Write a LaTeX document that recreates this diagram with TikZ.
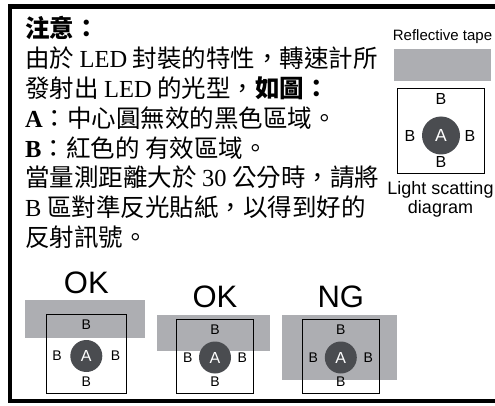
\documentclass[tikz,border=0pt]{standalone}
\usepackage{fontspec}
\setmainfont{Noto Sans CJK TC}
\newfontfamily\timesfont{Liberation Serif}
\newfontfamily\arialfont{Liberation Sans}
\newcommand\lat[1]{{\timesfont #1}}
\definecolor{tapegray}{RGB}{173,174,178}
\definecolor{ledgray}{RGB}{74,76,80}
\tikzset{
  txtline/.style={anchor=base west, inner sep=0pt, font=\fontsize{24.5}{24.5}\selectfont},
  tape/.style={fill=tapegray},
  lensbox/.style={draw=black, line width=0.8pt},
  spot/.style={circle, fill=ledgray, text=white, inner sep=0pt, minimum size=32pt, font=\arialfont\fontsize{16}{16}\selectfont},
  zone/.style={inner sep=0pt, font=\arialfont\fontsize{14}{14}\selectfont},
  bigzone/.style={zone, font=\arialfont\fontsize{16}{16}\selectfont},
  caption/.style={anchor=base, inner sep=0pt, font=\arialfont\fontsize{18}{18}\selectfont},
  verdict/.style={anchor=base, inner sep=0pt, font=\arialfont\fontsize{31}{31}\selectfont}
}

\begin{document}
\begin{tikzpicture}[x=1pt,y=-1pt]
	\useasboundingbox (0,0) rectangle (495,406);
	\draw[line width=4.5pt] (10,6.5) rectangle (505,401);
	% note text
	\foreach \txt [count=\i from 0] in {%
		{\bfseries 注意：},
		{由於 \lat{LED} 封裝的特性，轉速計所},
		{發射出 \lat{LED} 的光型，{\bfseries 如圖：}},
		{\lat{\bfseries A}：中心圓無效的黑色區域。},
		{\lat{\bfseries B}：紅色的 有效區域。},
		{當量測距離大於 \lat{30} 公分時，請將},
		{\lat{B} 區對準反光貼紙，以得到好的},
		{反射訊號。}} {
		\node[txtline] (l\i) at (25, 37.6+29.86*\i) {\txt};
	};
	% legend
	\node[caption, font=\arialfont\fontsize{15}{15}\selectfont] (tapelbl) at (442.5, 41) {Reflective tape};
	\fill[tape] (394, 49) rectangle (491, 81);
	\draw[lensbox] (397.5, 88) rectangle (484, 173);
	\node[spot, minimum size=38pt, font=\arialfont\fontsize{17.5}{17.5}\selectfont] (a0) at (441, 135.5) {A};
	\node[bigzone] (nb0) at (441, 99) {B};
	\node[bigzone] (sb0) at (441, 161.5) {B};
	\node[bigzone] (wb0) at (410, 135.5) {B};
	\node[bigzone] (eb0) at (470, 135.5) {B};
	\node[caption] (cap1) at (440.5, 194) {Light scatting};
	\node[caption] (cap2) at (440.5, 214) {diagram};
	% tape positions
	\foreach \n/\cx/\cy/\hw/\st/\tx/\ty/\tw/\th/\word/\wy in {
		1/86.3/356/40.3/314/25/300/120/38/OK/293,
		2/215/357.5/38.3/319/157.3/315/112.7/35.7/OK/307,
		3/340.8/357.5/38.5/319/282.3/315/114.7/65/NG/307} {
		\fill[tape] (\tx, \ty) rectangle ++(\tw, \th);
		\draw[lensbox] (\cx-\hw, \st) rectangle (\cx+\hw, 393);
		\node[verdict] (v\n) at (\cx, \wy) {\word};
		\node[spot] (a\n) at (\cx, \cy) {A};
		\node[zone] (nb\n) at (\cx, \st+11) {B};
		\node[zone] (sb\n) at (\cx, 381.5) {B};
		\node[zone] (wb\n) at (\cx-\hw+11, \cy) {B};
		\node[zone] (eb\n) at (\cx+\hw-11, \cy) {B};
	};
\end{tikzpicture}
\end{document}
